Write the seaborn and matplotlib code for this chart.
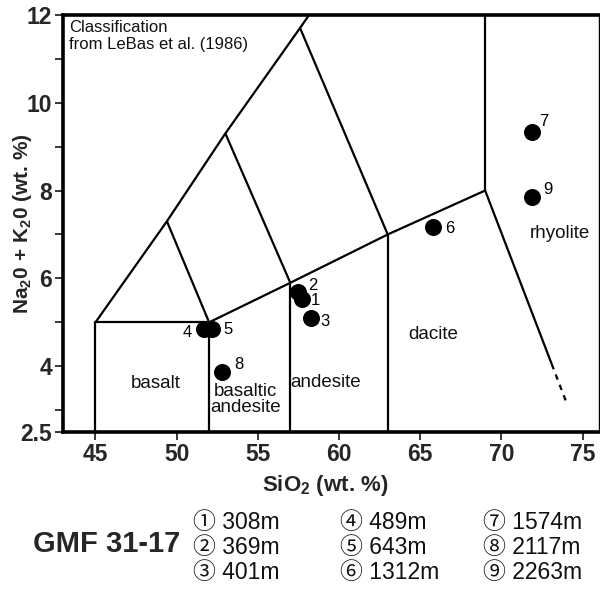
import matplotlib
matplotlib.use('Agg')

import matplotlib.pyplot as plt
import seaborn as sns
import pandas as pd

# Sample points (SiO2, Na2O + K2O), GMF 31-17
sample_ids = ['1', '2', '3', '4', '5', '6', '7', '8', '9']
sio2 = [57.75, 57.45, 58.3, 51.7, 52.2, 65.8, 71.9, 52.8, 71.9]
alkali = [5.52, 5.68, 5.09, 4.84, 4.84, 7.16, 9.34, 3.86, 7.86]
depths = ['308m', '369m', '401m', '489m', '643m', '1312m', '1574m', '2117m', '2263m']
circled = ['\u2460', '\u2461', '\u2462', '\u2463', '\u2464', '\u2465', '\u2466', '\u2467', '\u2468']

# LeBas et al. (1986) TAS boundaries
basalt_x = [45, 45, 52]
basalt_y = [0, 5, 5]
lower_x = [52, 57, 63, 69]
lower_y = [5, 5.9, 7, 8]
outer_x = [45, 49.4, 53, 57.6, 61]
outer_y = [5, 7.3, 9.3, 11.7, 13.5]
verticals_x = [52, 57, 63]
verticals_top = [5, 5.9, 7]
spokes_x0 = [52, 57, 63]
spokes_y0 = [5, 5.9, 7]
spokes_x1 = [49.4, 53, 57.6]
spokes_y1 = [7.3, 9.3, 11.7]
trachyte_x = [69, 69]
trachyte_y = [8, 13]
rhyolite_x = [69, 73.1]
rhyolite_y = [8, 4.05]
rhyolite_dash_x = [73.1, 74.0]
rhyolite_dash_y = [4.05, 3.18]

field_names = ['basalt', 'basaltic\nandesite', 'andesite', 'dacite', 'rhyolite']
field_x = [48.7, 54.25, 59.2, 65.8, 73.6]
field_y = [3.6, 3.24, 3.62, 4.73, 7.02]

# label offsets in points
label_offsets = {'1': (9, -1), '2': (11, 5), '3': (10, -2), '4': (-12, -2), '5': (11, 0),
                 '6': (12, -1), '7': (8, 7), '8': (12, 6), '9': (11, 5)}

sns.set_theme(style='ticks')
plt.rcParams['font.family'] = ['Liberation Sans', 'Noto Sans CJK JP', 'DejaVu Sans']
plt.rcParams['mathtext.fontset'] = 'custom'
plt.rcParams['mathtext.rm'] = 'Liberation Sans'
plt.rcParams['mathtext.bf'] = 'Liberation Sans:bold'

fig = plt.figure(figsize=(6, 5.92), dpi=100, facecolor='white')
ax = fig.add_axes([0.105, 0.27, 0.893, 0.705])

line_kw = dict(color='black', lw=1.6, solid_capstyle='butt')
ax.plot(basalt_x, basalt_y, **line_kw)
ax.plot(lower_x, lower_y, **line_kw)
ax.plot(outer_x, outer_y, **line_kw)
for vx, vt in zip(verticals_x, verticals_top):
    ax.plot([vx, vx], [0, vt], **line_kw)
for x0, y0, x1, y1 in zip(spokes_x0, spokes_y0, spokes_x1, spokes_y1):
    ax.plot([x0, x1], [y0, y1], **line_kw)
ax.plot(trachyte_x, trachyte_y, **line_kw)
ax.plot(rhyolite_x, rhyolite_y, **line_kw)
ax.plot(rhyolite_dash_x, rhyolite_dash_y, color='black', lw=1.6, dashes=(2.5, 2.5))

df = pd.DataFrame({'sio2': sio2, 'alkali': alkali, 'id': sample_ids})
sns.scatterplot(data=df, x='sio2', y='alkali', color='black', s=150,
                edgecolor='black', linewidth=0, ax=ax, zorder=5, legend=False)
for sid, x, y in zip(sample_ids, sio2, alkali):
    ax.annotate(sid, (x, y), xytext=label_offsets[sid], textcoords='offset points',
                ha='center', va='center', fontsize=12, color='black')

for name, x, y in zip(field_names, field_x, field_y):
    ax.text(x, y, name, ha='center', va='center', fontsize=13.5, color='#111111',
            linespacing=0.95)

ax.text(0.012, 0.988, 'Classification\nfrom LeBas et al. (1986)', transform=ax.transAxes,
        ha='left', va='top', fontsize=12, color='#111111', linespacing=1.15)

ax.set_xlim(43, 76)
ax.set_ylim(2.5, 12)
ax.set_xticks([45, 50, 55, 60, 65, 70, 75])
ax.set_yticks([2.5, 4, 6, 8, 10, 12])
ax.set_yticklabels(['2.5', '4', '6', '8', '10', '12'])
ax.set_yticks([3, 5, 7, 9, 11], minor=True)
ax.tick_params(axis='both', which='major', length=6, width=1.3, labelsize=16.5,
               direction='out', pad=2)
ax.tick_params(axis='y', which='minor', length=6, width=1.3, direction='out')
for lab in ax.get_xticklabels() + ax.get_yticklabels():
    lab.set_fontweight('bold')

for side in ['left', 'bottom', 'top']:
    ax.spines[side].set_linewidth(2.6)
ax.spines['right'].set_linewidth(1.0)
for sp in ax.spines.values():
    sp.set_color('black')
    sp.set_visible(True)

ax.set_xlabel('SiO$_\\mathbf{2}$ (wt. %)', fontsize=16, fontweight='bold')
ax.set_ylabel('Na$_\\mathbf{2}$0 + K$_\\mathbf{2}$0 (wt. %)', fontsize=15,
              fontweight='bold')
ax.xaxis.set_label_coords(0.49, -0.098)
ax.yaxis.set_label_coords(-0.055, 0.5)

# Depth legend below the plot
fig.text(0.055, 0.081, 'GMF 31-17', fontsize=21, fontweight='bold', ha='left', va='center')
col_x = [0.322, 0.567, 0.805]
row_y = [0.117, 0.075, 0.033]
for i, (c, d) in enumerate(zip(circled, depths)):
    fig.text(col_x[i // 3], row_y[i % 3], c + ' ' + d, fontsize=16.5, ha='left', va='center',
             color='#111111')

fig.savefig('out.png', dpi=100, facecolor='white')
plt.close(fig)
